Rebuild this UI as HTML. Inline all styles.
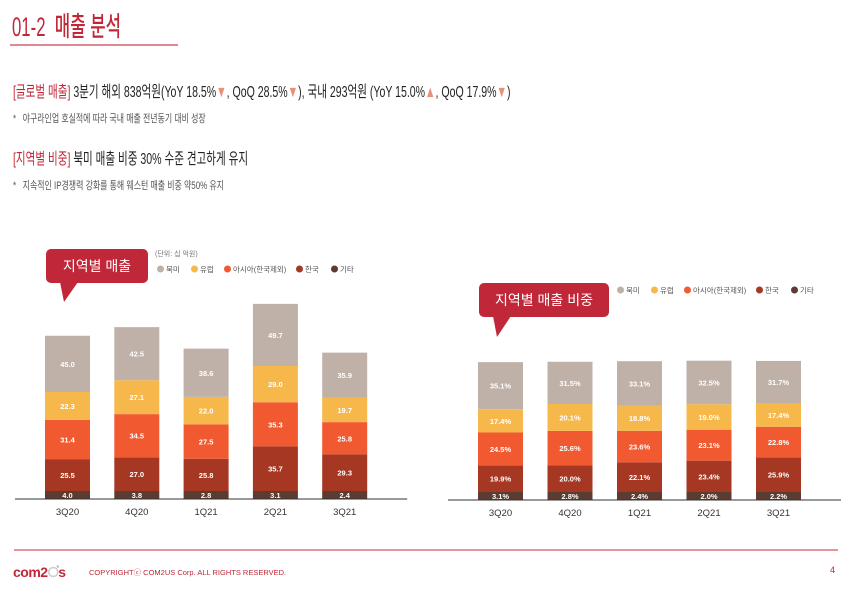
<!DOCTYPE html>
<html><head><meta charset="utf-8"><style>
body{margin:0;width:846px;height:591px;background:#fff;overflow:hidden;position:relative;font-family:"Liberation Sans","Noto Sans CJK KR",sans-serif}
.t{position:absolute;white-space:nowrap;transform-origin:0 0}
</style></head><body>
<div class="t" style="left:12px;top:5px;font-size:27px;color:#c0283a;font-weight:500;transform:scaleX(0.62)">01-2&nbsp; 매출 분석</div>
<div style="position:absolute;left:10px;top:44px;width:168px;height:2px;background:#e08890"></div>
<div class="t" style="left:13px;top:78px;font-size:16px;color:#222;transform:scaleX(0.66)"><span style="color:#c0283a">[글로벌 매출]</span> 3분기 해외 838억원(YoY 18.5%<span style="color:#e8907a">▼</span>, QoQ 28.5%<span style="color:#e8907a">▼</span>), 국내 293억원 (YoY 15.0%<span style="color:#e8907a">▲</span>, QoQ 17.9%<span style="color:#e8907a">▼</span>)</div>
<div class="t" style="left:13px;top:110px;font-size:11px;color:#555;transform:scaleX(0.72)">*&nbsp;&nbsp; 야구라인업 호실적에 따라 국내 매출 전년동기 대비 성장</div>
<div class="t" style="left:13px;top:145px;font-size:16px;color:#222;transform:scaleX(0.66)"><span style="color:#c0283a">[지역별 비중]</span> 북미 매출 비중 30% 수준 견고하게 유지</div>
<div class="t" style="left:13px;top:177px;font-size:11px;color:#555;transform:scaleX(0.72)">*&nbsp;&nbsp; 지속적인 IP경쟁력 강화를 통해 웨스턴 매출 비중 약50% 유지</div>
<svg id="c" width="846" height="591" style="position:absolute;left:0;top:0"></svg>
<div style="position:absolute;left:14px;top:549px;width:824px;height:2px;background:#e8959a"></div>
<div class="t" style="left:13px;top:564px;font-size:14px;font-weight:bold;color:#c0283a;letter-spacing:-0.5px">com2<span style="color:#bbb">ਂ</span>s</div>
<div class="t" style="left:89px;top:567px;font-size:7.5px;color:#c0283a">COPYRIGHTⓒ COM2US Corp. ALL RIGHTS RESERVED.</div>
<div class="t" style="left:830px;top:565px;font-size:9px;color:#c0283a">4</div>
<script>
const categories=["3Q20","4Q20","1Q21","2Q21","3Q21"];
const seriesNames=["북미","유럽","아시아(한국제외)","한국","기타"];
const northAmerica=[45.0,42.5,38.6,49.7,35.9];
const europe=[22.3,27.1,22.0,29.0,19.7];
const asia=[31.4,34.5,27.5,35.3,25.8];
const korea=[25.5,27.0,25.8,35.7,29.3];
const other=[4.0,3.8,2.8,3.1,2.4];
const naPct=[35.1,31.5,33.1,32.5,31.7];
const euPct=[17.4,20.1,18.8,19.0,17.4];
const asPct=[24.5,25.6,23.6,23.1,22.8];
const krPct=[19.9,20.0,22.1,23.4,25.9];
const otPct=[3.1,2.8,2.4,2.0,2.2];
const colors=["#bfb0a8","#f7b84b","#f15a31","#a63722","#5c3b30"];
const svg=document.getElementById('c');const NS="http://www.w3.org/2000/svg";
function el(t,a,p){const e=document.createElementNS(NS,t);for(const k in a)e.setAttribute(k,a[k]);(p||svg).appendChild(e);return e;}
function chart(name,x0,step,base,k,stacks,suffix){
  const order=[4,3,2,1,0];
  categories.forEach((c,i)=>{
    let y=base;const x=x0+i*step;
    order.forEach(s=>{
      const v=stacks[s][i];const h=Math.max(v*k,8);y-=h;
      const r=el('rect',{x:x,y:y,width:45,height:h,fill:colors[s]});
      
      
      const t=el('text',{x:x+22.5,y:y+h/2+3,'text-anchor':'middle','font-size':7.5,'font-weight':'bold',fill:'#fff'});
      t.textContent=v.toFixed(1)+suffix;
      
      
    });
    const l=el('text',{x:x+22.5,y:base+16,'text-anchor':'middle','font-size':9.5,fill:'#333'});
    l.textContent=c;
    
    
  });
  const ax=el('line',{x1:x0-30,x2:x0+4*step+85,y1:base,y2:base,stroke:'#333','stroke-width':1});
  
  
}
chart('sales',45,69.3,499,1.25,[northAmerica,europe,asia,korea,other],'');
chart('share',478,69.5,500,1.34,[naPct,euPct,asPct,krPct,otPct],'%');
function callout(name,x,y,w,txt,px,py){
  const g=el('g',{});
  
  
  el('rect',{x:x,y:y,width:w,height:34,rx:5,fill:'#c0283a'},g);
  el('path',{d:`M${x+14},${y+33} L${x+32},${y+33} L${px},${py} Z`,fill:'#c0283a'},g);
  const t=el('text',{x:x+w/2,y:y+22,'text-anchor':'middle','font-size':14,fill:'#fff'},g);t.textContent=txt;
}
callout('sales-callout',46,249,102,'지역별 매출',64,302);
callout('share-callout',479,283,130,'지역별 매출 비중',497,337);
function legend(name,x,y,gaps){
  let cx=x;
  seriesNames.forEach((n,i)=>{
    const g=el('g',{});
    
    
    el('circle',{cx:cx+3.5,cy:y-3,r:3.5,fill:colors[i]},g);
    const t=el('text',{x:cx+9,y:y,'font-size':7.5,fill:'#555'},g);t.textContent=n;
    cx+=gaps[i];
  });
}
const u=el('text',{x:155,y:256,'font-size':7,fill:'#777'});u.textContent='(단위: 십 억원)';


legend('sales-legend',157,272,[34,33,72,35,35]);
legend('share-legend',617,293,[34,33,72,35,35]);
</script>
</body></html>
